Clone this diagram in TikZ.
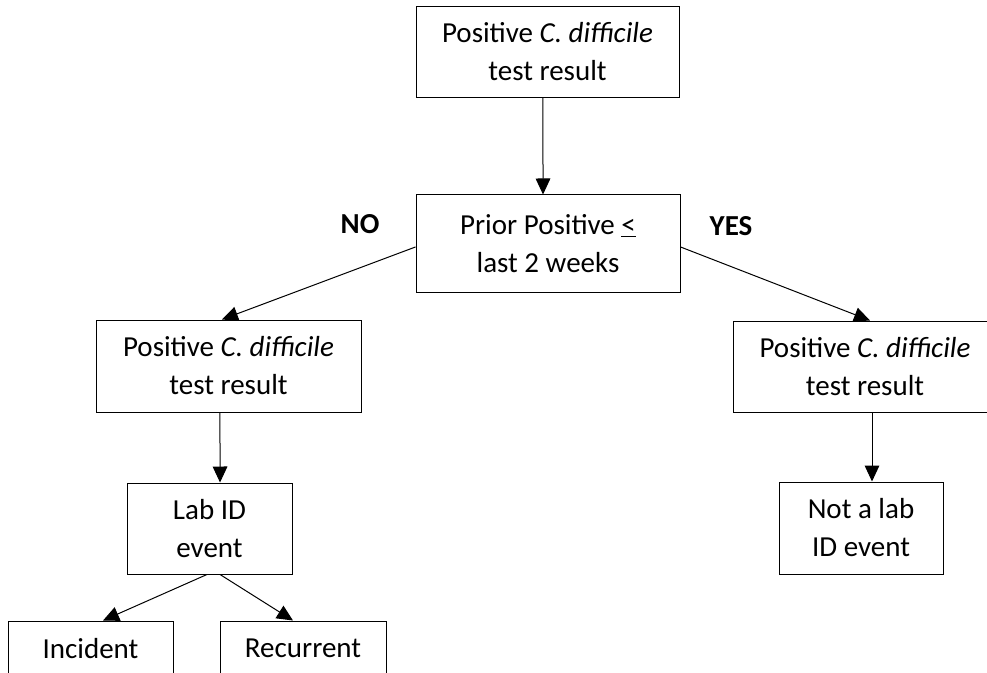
\documentclass[tikz,border=0pt]{standalone}
\usepackage{fontspec}
\setmainfont{Carlito}
\usetikzlibrary{arrows.meta}
\begin{document}
\begin{tikzpicture}[x=0.75pt,y=-0.75pt,
  box/.style={draw=black,line width=0.75pt,inner sep=0pt,align=center,
    font=\fontsize{21.75}{28.5}\selectfont},
  lbl/.style={font=\fontsize{21.75}{28.5}\selectfont\bfseries},
  arr/.style={draw=black,line width=0.75pt,-{Triangle[length=12pt,width=11pt]}}]
\useasboundingbox (0,0) rectangle (987,673);
\node[box,minimum width=197.25pt,minimum height=68.25pt] (top) at (547.5,52) {Positive \textit{C. difficile}\\test result};
\node[box,minimum width=198pt,minimum height=72.75pt] (prior) at (548,243.5) {Prior Positive \underline{<}\\last 2 weeks};
\node[box,minimum width=198.75pt,minimum height=69pt] (lpos) at (228.5,366) {Positive \textit{C. difficile}\\test result};
\node[box,minimum width=198pt,minimum height=68.25pt] (rpos) at (865,366.5) {Positive \textit{C. difficile}\\test result};
\node[box,minimum width=123.75pt,minimum height=68.25pt] (lab) at (209.5,528.5) {Lab ID\\event};
\node[box,minimum width=123pt,minimum height=69pt] (notlab) at (861,528) {Not a lab\\ID event};
\node[box,minimum width=123.75pt,minimum height=69pt] (inc) at (90.5,667) {Incident\\\phantom{x}};
\node[box,minimum width=124.5pt,minimum height=69pt] (rec) at (303,667) {Recurrent\\\phantom{x}};
\node[lbl] (no) at (360,224) {NO};
\node[lbl] (yes) at (731,226) {YES};
\draw[arr] ([xshift=-3.4pt]top.south) -- ([xshift=-3.75pt]prior.north);
\draw[arr] ([yshift=-2.6pt]prior.west) -- ([xshift=-4.9pt]lpos.north);
\draw[arr] ([yshift=-2.6pt]prior.east) -- ([xshift=3.75pt]rpos.north);
\draw[arr] ([xshift=-6.4pt]lpos.south) -- ([xshift=7.9pt]lab.north);
\draw[arr] ([xshift=5.25pt]rpos.south) -- ([xshift=8.25pt]notlab.north);
\draw[arr] ([xshift=-1.9pt]lab.south) -- ([xshift=9.4pt]inc.north);
\draw[arr] ([xshift=7.9pt]lab.south) -- ([xshift=-7.5pt]rec.north);
\end{tikzpicture}
\end{document}
